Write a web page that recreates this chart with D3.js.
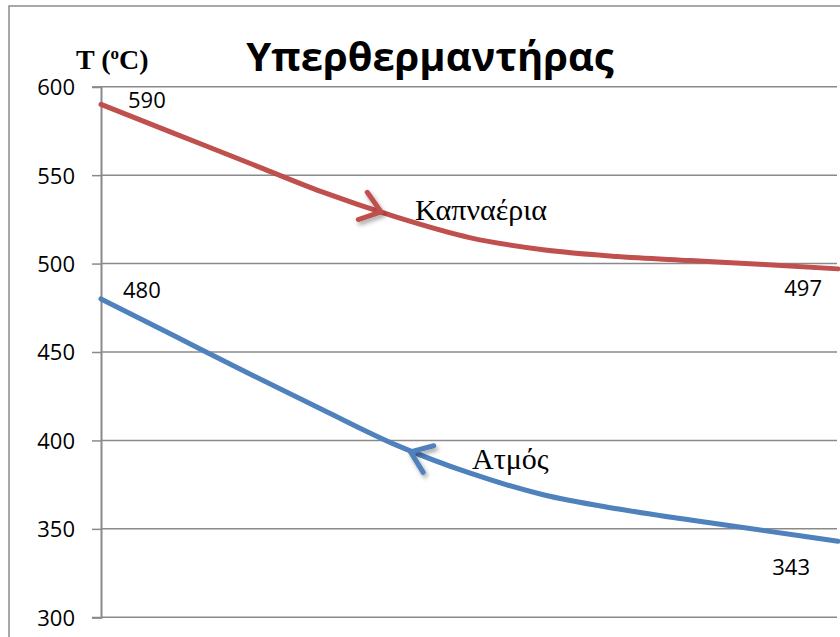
<!DOCTYPE html>
<html>
<head>
<meta charset="utf-8">
<script src="https://cdn.jsdelivr.net/npm/d3@7"></script>
<style>
  html, body { margin: 0; padding: 0; background: #fff; }
  svg { display: block; }
</style>
</head>
<body>
<script>
// Temperature profiles along the superheater (position 0 = inlet side, 1 = outlet side)
const title = "Υπερθερμαντήρας";
const yAxisTitle = "T (";
const yTicks = [300, 350, 400, 450, 500, 550, 600];

const positions = [0, 0.1, 0.2, 0.3, 0.4, 0.5, 0.6, 0.7, 0.8, 0.9, 1];
const fluegas = [590, 573.5, 557, 540.5, 526.4, 514.7, 507.8, 504, 501.7, 499.5, 497];
const steam = [480, 459, 438, 417.5, 397.5, 381.6, 369.3, 361.4, 355, 349, 343];

const seriesNames = ["Καπναέρια", "Ατμός"];
const seriesColors = ["#C0504D", "#4F81BD"];
// flow-direction arrows: [position, temperature] of the arrow tip, and its direction (+1 forward, -1 back)
const arrowTips = [[0.38, 529.2, 1], [0.42, 393.5, -1]];

const W = 840, H = 637;
const svg = d3.select("body").append("svg").attr("width", W).attr("height", H);

const defs = svg.append("defs");
const sh = defs.append("filter").attr("id", "shadow")
  .attr("x", "-50%").attr("y", "-50%").attr("width", "200%").attr("height", "200%");
sh.append("feDropShadow").attr("dx", 2).attr("dy", 3).attr("stdDeviation", 2)
  .attr("flood-color", "#000").attr("flood-opacity", 0.35);

// outer chart frame
svg.append("rect").attr("x", 9).attr("y", 6).attr("width", W).attr("height", H)
  .attr("fill", "none").attr("stroke", "#8c8c8c").attr("stroke-width", 1.5);

const x = d3.scaleLinear().domain([0, 1]).range([101, 838]);
const y = d3.scaleLinear().domain([300, 600]).range([617.3, 86.7]);

// horizontal gridlines
svg.append("g").selectAll("line").data(yTicks).join("line")
  .attr("x1", x(0)).attr("x2", 837)
  .attr("y1", d => y(d)).attr("y2", d => y(d))
  .attr("stroke", "#8a8a8a").attr("stroke-width", 1.5);

// y axis
const yAxis = d3.axisLeft(y).tickValues(yTicks).tickSize(9).tickPadding(17);
const ga = svg.append("g").attr("transform", `translate(${x(0)},0)`).call(yAxis);
ga.select(".domain").attr("stroke", "#8a8a8a").attr("stroke-width", 2);
ga.selectAll(".tick line").attr("stroke", "#8a8a8a").attr("stroke-width", 1.5);
ga.selectAll(".tick text")
  .attr("font-family", "'Open Sans', sans-serif").attr("font-size", 22)
  .attr("fill", "#000").attr("dy", "0.36em");

// series lines
const line = d3.line().x(d => x(d[0])).y(d => y(d[1])).curve(d3.curveMonotoneX);
const seriesData = [fluegas, steam].map(vals => positions.map((p, i) => [p, vals[i]]));
svg.append("g").selectAll("path").data(seriesData).join("path")
  .attr("d", line)
  .attr("fill", "none")
  .attr("stroke", (d, i) => seriesColors[i])
  .attr("stroke-width", 5)
  .attr("stroke-linecap", "round");

// arrowheads showing flow direction
function slopeAt(vals, p) {
  const v = d3.scaleLinear().domain(positions).range(vals);
  const a = [x(p - 0.03), y(v(p - 0.03))], b = [x(p + 0.03), y(v(p + 0.03))];
  return Math.atan2(b[1] - a[1], b[0] - a[0]);
}
const arrows = arrowTips.map((t, i) => {
  const ang = slopeAt(i === 0 ? fluegas : steam, t[0]) + (t[2] > 0 ? Math.PI : 0);
  const tx = x(t[0]), ty = y(t[1]), L = 24, spread = 0.64;
  return { color: seriesColors[i],
    d: `M${tx + L * Math.cos(ang + spread)},${ty + L * Math.sin(ang + spread)}L${tx},${ty}L${tx + L * Math.cos(ang - spread)},${ty + L * Math.sin(ang - spread)}` };
});
svg.append("g").selectAll("path").data(arrows).join("path")
  .attr("d", d => d.d)
  .attr("fill", "none").attr("stroke", d => d.color).attr("stroke-width", 5)
  .attr("stroke-linecap", "round").attr("stroke-linejoin", "round")
  .attr("filter", "url(#shadow)");

// end-point value labels
const endLabels = [
  { v: fluegas[0], p: 0, dx: 27, dy: 4, anchor: "start" },
  { v: steam[0], p: 0, dx: 22, dy: -1, anchor: "start" },
  { v: fluegas[fluegas.length - 1], p: 1, dx: -16, dy: 27, anchor: "end" },
  { v: steam[steam.length - 1], p: 1, dx: -28, dy: 34, anchor: "end" }
];
svg.append("g").selectAll("text").data(endLabels).join("text")
  .attr("x", d => x(d.p) + d.dx).attr("y", d => y(d.v) + d.dy)
  .attr("text-anchor", d => d.anchor)
  .attr("font-family", "'Open Sans', sans-serif").attr("font-size", 22)
  .attr("fill", "#000")
  .text(d => d.v);

// series names next to the arrows
const nameLabels = [
  { t: seriesNames[0], px: 415, py: 220 },
  { t: seriesNames[1], px: 472, py: 469 }
];
svg.append("g").selectAll("text").data(nameLabels).join("text")
  .attr("x", d => d.px).attr("y", d => d.py)
  .attr("font-family", "'Liberation Serif', 'DejaVu Serif', serif").attr("font-size", 30)
  .attr("fill", "#000")
  .text(d => d.t);

// title
svg.append("text").attr("x", 430).attr("y", 71).attr("text-anchor", "middle")
  .attr("font-family", "'Open Sans', sans-serif").attr("font-weight", "bold")
  .attr("font-size", 40).attr("fill", "#000")
  .text(title);

// axis title T (ºC)
const at = svg.append("text").attr("x", 76).attr("y", 69)
  .attr("font-family", "'Liberation Serif', serif").attr("font-weight", "bold")
  .attr("font-size", 28).attr("fill", "#000");
at.append("tspan").text(yAxisTitle);
at.append("tspan").attr("font-size", 17).attr("dy", -10).text("o");
at.append("tspan").attr("dy", 10).text("C)");
</script>
</body>
</html>
